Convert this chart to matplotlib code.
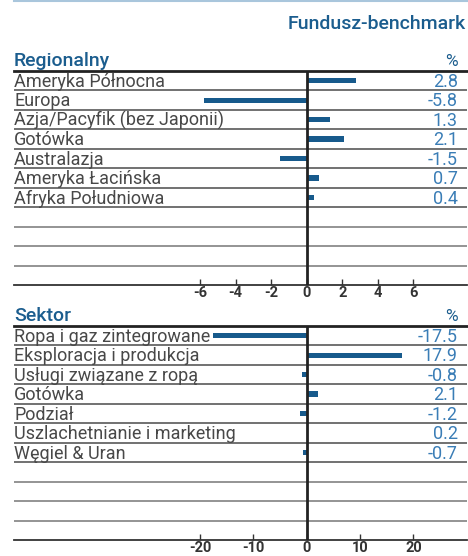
import matplotlib
matplotlib.use("Agg")
import matplotlib.pyplot as plt

plt.rcParams['font.family'] = ['Roboto', 'DejaVu Sans']

# Dane
reg_labels = ['Ameryka Północna', 'Europa', 'Azja/Pacyfik (bez Japonii)', 'Gotówka',
              'Australazja', 'Ameryka Łacińska', 'Afryka Południowa']
reg_values = [2.8, -5.8, 1.3, 2.1, -1.5, 0.7, 0.4]
reg_ticks = [-6, -4, -2, 0, 2, 4, 6]

sek_labels = ['Ropa i gaz zintegrowane', 'Eksploracja i produkcja', 'Usługi związane z ropą',
              'Gotówka', 'Podział', 'Uszlachetnianie i marketing', 'Węgiel & Uran']
sek_values = [-17.5, 17.9, -0.8, 2.1, -1.2, 0.2, -0.7]
sek_ticks = [-20, -10, 0, 10, 20]

n_rows = 11
W, H = 468, 556
dark_blue = '#1b5d8e'
bar_col = '#175a8c'
val_col = '#3a7db6'
txt_col = '#484848'

fig = plt.figure(figsize=(W / 100, H / 100), dpi=100)

# linia na górze
fig.add_artist(plt.Line2D([14 / W, 467 / W], [1 - 1 / H, 1 - 1 / H], color='#a9c6dc', lw=1.5))
fig.text(466 / W, 1 - 29 / H, 'Fundusz-benchmark', ha='right', va='baseline',
         fontsize=14, color=dark_blue, fontweight='medium')


def panel(top_px, title, labels, values, ticks, x0_px, px_per_unit):
    bottom_px = top_px + 214
    ax = fig.add_axes([14 / W, 1 - bottom_px / H, 453 / W, 214 / H])
    left = (14 - x0_px) / px_per_unit
    right = (467 - x0_px) / px_per_unit
    ax.set_xlim(left, right)
    ax.set_ylim(n_rows, 0)
    ax.barh([i + 0.5 for i in range(len(values))], values, height=0.27, color=bar_col, zorder=3)
    for i in range(1, n_rows):
        col = '#4a4a4a' if i <= len(values) else '#777777'
        ax.axhline(i, color=col, lw=1.1, zorder=1)
    ax.axvline(0, color='#222222', lw=2, zorder=4)
    for s in ['left', 'right']:
        ax.spines[s].set_visible(False)
    ax.spines['top'].set_color('#222222')
    ax.spines['top'].set_linewidth(2)
    ax.spines['bottom'].set_color('#333333')
    ax.spines['bottom'].set_linewidth(1.3)
    ax.set_yticks([])
    ax.set_xticks(ticks)
    ax.set_xticklabels([str(t) for t in ticks])
    ax.tick_params(axis='x', direction='in', length=4, width=1, color='#333333',
                   labelsize=10.5, labelcolor='#333333', pad=0.5)
    for lab in ax.get_xticklabels():
        lab.set_fontweight('bold')
    tr = ax.get_yaxis_transform()
    for i, (lab, v) in enumerate(zip(labels, values)):
        ax.text(0.0, i + 0.82, lab, transform=tr, ha='left', va='baseline',
                fontsize=13, color=txt_col)
        ax.text((458 - 14) / 453, i + 0.82, f'{v:.1f}', transform=tr, ha='right',
                va='baseline', fontsize=13, color=val_col)
    fig.text(14 / W, 1 - (top_px - 5) / H, title, ha='left', va='baseline',
             fontsize=14, color=dark_blue, fontweight='medium')
    fig.text(458 / W, 1 - (top_px - 5) / H, '%', ha='right', va='baseline',
             fontsize=12.5, color=dark_blue)
    return ax


panel(71, 'Regionalny', reg_labels, reg_values, reg_ticks, 306.7, 106.7 / 6)
panel(326, 'Sektor', sek_labels, sek_values, sek_ticks, 306.7, 106.7 / 20)

fig.savefig('out.png', dpi=100)
